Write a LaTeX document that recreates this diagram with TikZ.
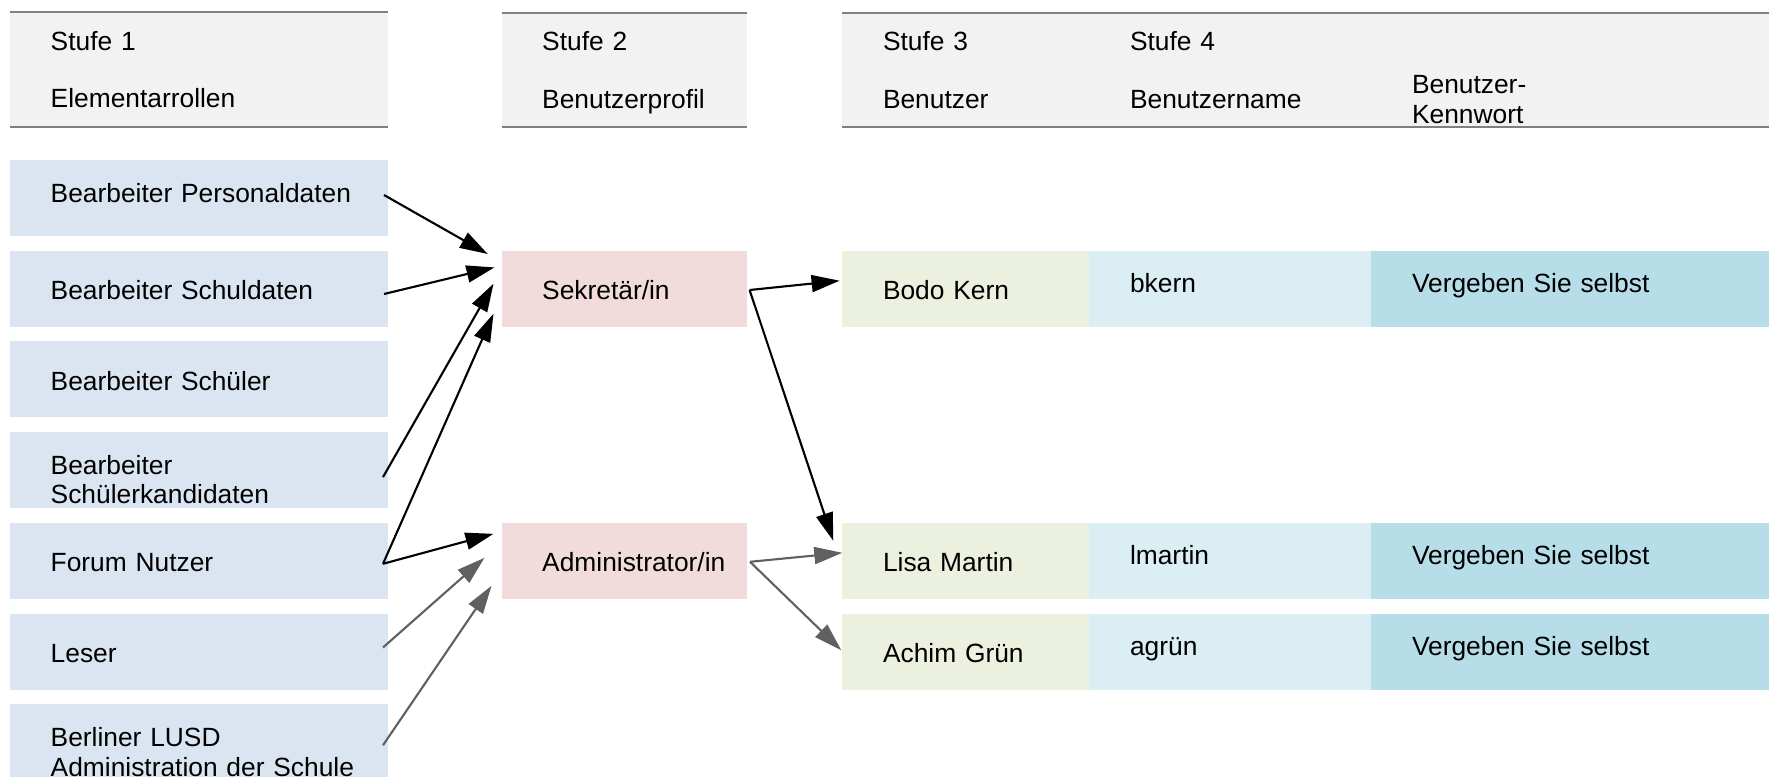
\documentclass[tikz,border=0pt]{standalone}
\usepackage{fontspec}
\setmainfont{Liberation Sans}
\usetikzlibrary{positioning,arrows.meta}
\definecolor{rolefill}{HTML}{DBE5F1}
\definecolor{proffill}{HTML}{F2DCDB}
\definecolor{userfill}{HTML}{EBF1DE}
\definecolor{namefill}{HTML}{DAEEF3}
\definecolor{pwfill}{HTML}{B7DEE8}
\definecolor{headfill}{HTML}{F2F2F2}
\definecolor{headline}{HTML}{7F7F7F}
\definecolor{arrgray}{HTML}{606060}
\tikzset{
	box/.style={rectangle,inner sep=0pt,outer sep=0pt,minimum height=0.76cm},
	role/.style={box,fill=rolefill,minimum width=3.78cm},
	prof/.style={box,fill=proffill,minimum width=2.455cm},
	user/.style={box,fill=userfill,minimum width=2.47cm},
	uname/.style={box,fill=namefill,minimum width=2.82cm},
	pw/.style={box,fill=pwfill,minimum width=3.98cm},
	head/.style={rectangle,inner sep=0pt,outer sep=0pt,fill=headfill,minimum height=1.147cm},
	htxt/.style={anchor=base west,inner sep=0pt,text width=3cm,align=left},
	txt/.style={anchor=base west,inner sep=0pt,text width=4cm,align=left,xshift=0.4cm,yshift=-0.11cm},
	txthi/.style={txt,yshift=0.07cm},
	arr/.style={-{Triangle[length=2.8mm,width=1.7mm]},line width=0.6pt},
	garr/.style={arr,draw=arrgray}
}
\begin{document}
\begin{tikzpicture}[node distance=0.147cm,font=\fontsize{7.5pt}{8.5pt}\selectfont]
\useasboundingbox (0,0) rectangle (17.69,-7.76);

% Stufe 1
\node[role,label={[txthi]west:Bearbeiter Personaldaten}] (pers) at (1.99,-1.98) {};
\node[role,below=of pers,label={[txt]west:Bearbeiter Schuldaten}] (schul) {};
\node[role,below=of schul,label={[txt]west:Bearbeiter Schüler}] (schue) {};
\node[role,below=of schue,label={[txthi]west:Bearbeiter\\Schülerkandidaten}] (kand) {};
\node[role,below=of kand,label={[txt]west:Forum Nutzer}] (forum) {};
\node[role,below=of forum,label={[txt]west:Leser}] (leser) {};
\node[role,below=of leser,label={[txthi]west:Berliner LUSD\\Administration der Schule}] (lusd) {};

% Stufe 2
\node[prof,right=1.135cm of schul,label={[txt]west:Sekretär/in}] (sek) {};
\node[prof,right=1.135cm of forum,label={[txt]west:Administrator/in}] (admin) {};

% Stufe 3 und 4
\node[user,right=0.953cm of sek,label={[txt]west:Bodo Kern}] (bodo) {};
\node[uname,right=0cm of bodo,label={[txthi]west:bkern}] (bodoname) {};
\node[pw,right=0cm of bodoname,label={[txthi]west:Vergeben Sie selbst}] (bodopw) {};
\node[user,right=0.953cm of admin,label={[txt]west:Lisa Martin}] (lisa) {};
\node[uname,right=0cm of lisa,label={[txthi]west:lmartin}] (lisaname) {};
\node[pw,right=0cm of lisaname,label={[txthi]west:Vergeben Sie selbst}] (lisapw) {};
\node[user,below=of lisa,label={[txt]west:Achim Grün}] (achim) {};
\node[uname,right=0cm of achim,label={[txthi]west:agrün}] (achimname) {};
\node[pw,right=0cm of achimname,label={[txthi]west:Vergeben Sie selbst}] (achimpw) {};

% Kopfzeilen
\node[head,minimum width=3.78cm,above=0.333cm of pers] (h1) {};
\node[head,minimum width=2.455cm,above=1.233cm of sek] (h2) {};
\node[head,minimum width=9.27cm,above right=1.233cm and 0cm of bodo.north west] (h3) {};
\draw[headline,line width=0.6pt] (h1.north west) -- (h1.north east) (h1.south west) -- (h1.south east)
	(h2.north west) -- (h2.north east) (h2.south west) -- (h2.south east)
	(h3.north west) -- (h3.north east) (h3.south west) -- (h3.south east);

\node[htxt] (st1) at ([shift={(0.4,-0.38)}]h1.north west) {Stufe 1};
\node[htxt] (ti1) at ([shift={(0.4,-0.953)}]h1.north west) {Elementarrollen};
\node[htxt] (st2) at ([shift={(0.4,-0.38)}]h2.north west) {Stufe 2};
\node[htxt] (ti2) at ([shift={(0.4,-0.953)}]h2.north west) {Benutzerprofil};
\node[htxt] (st3) at ([shift={(0.4,-0.38)}]h3.north west) {Stufe 3};
\node[htxt] (ti3) at ([shift={(0.4,-0.953)}]h3.north west) {Benutzer};
\node[htxt] (st4) at ([shift={(2.87,-0.38)}]h3.north west) {Stufe 4};
\node[htxt] (ti4) at ([shift={(2.87,-0.953)}]h3.north west) {Benutzername};
\node[htxt] (ti5) at ([shift={(5.69,-0.807)}]h3.north west) {Benutzer-\\Kennwort};

% Pfeile
\draw[arr] ([shift={(-0.04,0.03)}]pers.east) -- ([shift={(-0.137,0.347)}]sek.west);
\draw[arr] ([shift={(-0.04,-0.053)}]schul.east) -- ([shift={(-0.07,0.213)}]sek.west);
\draw[arr] ([shift={(-0.05,-0.07)}]kand.east) -- ([shift={(-0.08,0.05)}]sek.west);
\draw[arr] ([shift={(-0.05,-0.03)}]forum.east) -- ([shift={(-0.08,-0.25)}]sek.west);
\draw[arr] ([shift={(-0.05,-0.03)}]forum.east) -- ([shift={(-0.08,0.27)}]admin.west);
\draw[garr] ([shift={(-0.05,0.04)}]leser.east) -- ([shift={(-0.17,0.03)}]admin.west);
\draw[garr] ([shift={(-0.05,-0.03)}]lusd.east) -- ([shift={(-0.10,-0.25)}]admin.west);
\draw[arr] ([shift={(0.026,-0.013)}]sek.east) -- ([shift={(-0.027,0.08)}]bodo.west);
\draw[arr] ([shift={(0.026,-0.013)}]sek.east) -- ([shift={(-0.09,0.20)}]lisa.west);
\draw[garr] ([shift={(0.03,-0.01)}]admin.east) -- ([shift={(0,0.08)}]lisa.west);
\draw[garr] ([shift={(0.03,-0.01)}]admin.east) -- ([shift={(-0.01,0.013)}]achim.west);

\end{tikzpicture}
\end{document}
